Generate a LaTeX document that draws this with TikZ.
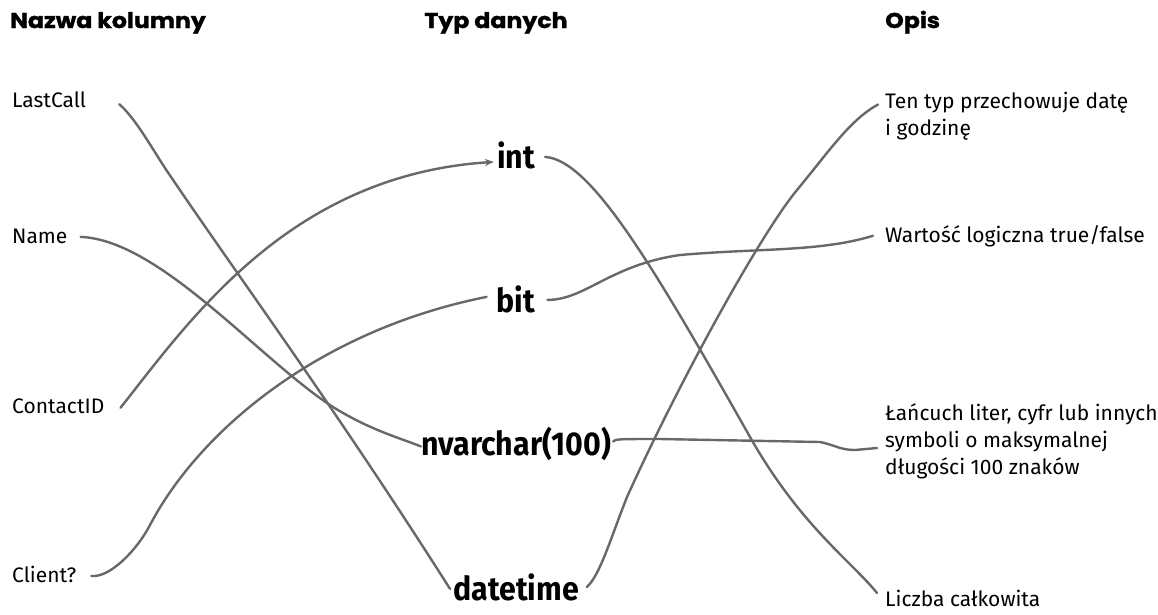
\documentclass[tikz,border=0pt]{standalone}
\usepackage{fontspec}
\setmainfont{Fira Sans}
\newfontfamily\headfont[FakeStretch=1.1,FakeBold=1.5]{Poppins}
\newfontfamily\typefont[FakeStretch=0.92]{Fira Sans}
\usetikzlibrary{arrows.meta,positioning}
\definecolor{linkc}{HTML}{686868}
\tikzset{
  head/.style={font=\headfont\bfseries\fontsize{21.5}{24}\selectfont,inner sep=0pt},
  colname/.style={font=\fontsize{21}{27}\selectfont,anchor=base west,inner sep=0pt},
  dtype/.style={font=\typefont\bfseries\fontsize{33}{36}\selectfont,anchor=base,inner sep=0pt},
  desc/.style={font=\fontsize{21}{27}\selectfont,align=left,inner sep=0pt},
  link/.style={draw=linkc,line width=2.4pt,line cap=round}
}

\begin{document}
\begin{tikzpicture}[x=1pt,y=-1pt]
\useasboundingbox (0,0) rectangle (1158,614);
% headers
\node[head,anchor=base west] (hname) at (10,28) {Nazwa kolumny};
\node[head,anchor=base] (htype) at (496,28) {Typ danych};
\node[head,anchor=base west] (hdesc) at (885,28) {Opis};
% column names
\node[colname] (lastcall) at (12,107) {LastCall};
\node[colname] (name) at (12,243) {Name};
\node[colname] (contactid) at (12,413) {ContactID};
\node[colname] (client) at (12,582) {Client?};
% data types
\node[dtype] (int) at (516,168) {int};
\node[dtype] (bit) at (516,312) {bit};
\node[dtype] (nvarchar) at (516,455) {nvarchar(100)};
\node[dtype] (datetime) at (516,600) {datetime};
% descriptions
\node[desc,anchor=north west] (dtdesc) at (885,91.5) {Ten typ przechowuje datę\\i godzinę};
\node[desc,anchor=base west] (bitdesc) at (885,242) {Wartość logiczna true/false};
\node[desc,anchor=north west] (strdesc) at (885,403) {Łańcuch liter, cyfr lub innych\\symboli o maksymalnej\\długości 100 znaków};
\node[desc,anchor=base west] (intdesc) at (885,606) {Liczba całkowita};
% left connectors
\draw[link] ([shift={(33,5)}]lastcall.east) .. controls (135,118) and (150,145) .. (165,168) .. controls (230,265) and (330,400) .. ([shift={(-3,2)}]datetime.west);
\draw[link] ([shift={(13,1)}]name.east) .. controls (160,240) and (260,360) .. (333,407) .. controls (370,430) and (400,438) .. ([shift={(0,3)}]nvarchar.west);
\draw[link,-{Stealth[length=9pt,width=7pt]}] ([shift={(16,2)}]contactid.east) .. controls (190,320) and (290,175) .. ([shift={(-3,7)}]int.west);
\draw[link] ([shift={(15,2)}]client.east) .. controls (110,578) and (137,550) .. (150,525) .. controls (200,430) and (320,330) .. ([shift={(-10,-2)}]bit.west);
% right connectors
\draw[link] ([shift={(10,2)}]int.east) .. controls (590,160) and (650,260) .. (750,437) .. controls (800,525) and (850,560) .. ([shift={(-8,-5)}]intdesc.west);
\draw[link] ([shift={(12,1)}]bit.east) .. controls (585,300) and (610,265) .. (680,255) .. controls (760,248) and (820,252) .. ([shift={(-12,0)}]bitdesc.west);
\draw[link] ([shift={(2,-2)}]nvarchar.east) .. controls (615,439) and (620,439) .. (660,439) -- (820,442) .. controls (835,445) and (840,450) .. (855,450) -- ([shift={(-8,45)}]strdesc.north west);
\draw[link] ([shift={(8,0)}]datetime.east) .. controls (600,575) and (610,540) .. (627,497) .. controls (680,380) and (760,235) .. (797,190) .. controls (830,150) and (850,120) .. ([shift={(-7,13)}]dtdesc.north west);
\end{tikzpicture}
\end{document}
